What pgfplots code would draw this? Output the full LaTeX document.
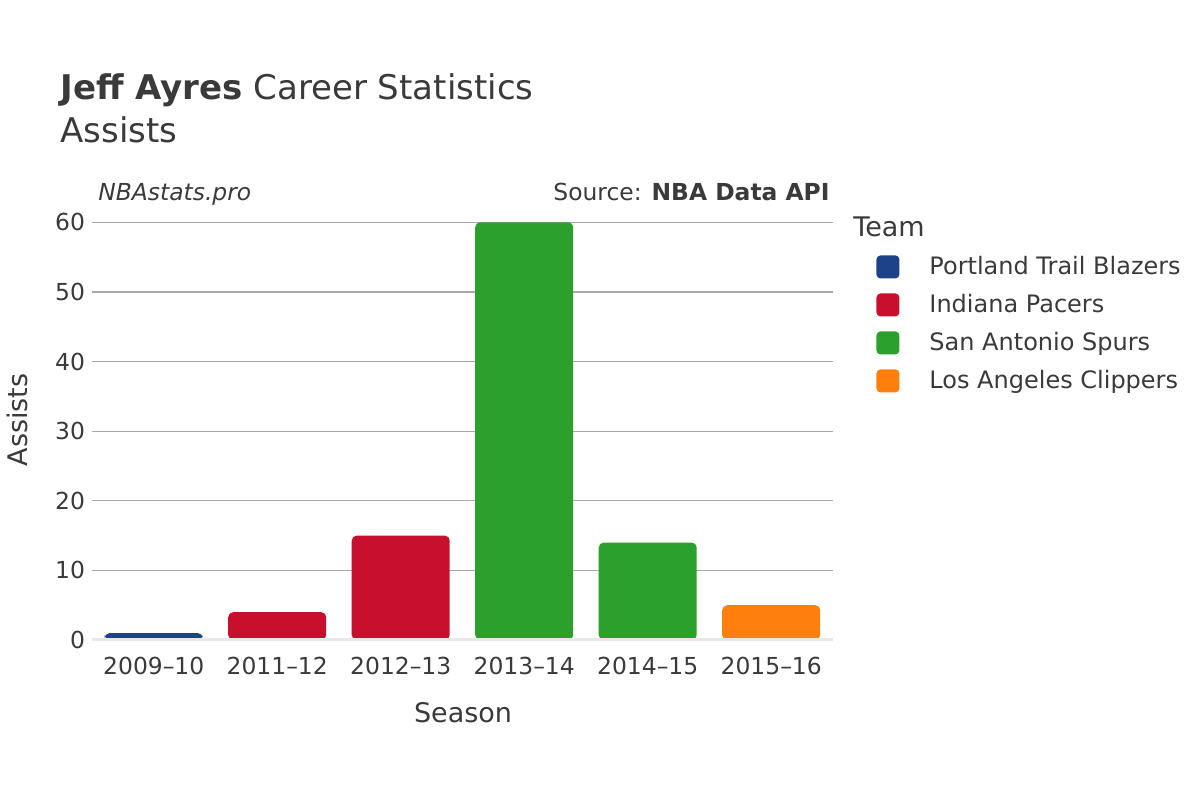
\documentclass[border=0pt]{standalone}
\usepackage{pgfplots}
\pgfplotsset{compat=1.18}
\usepackage{fontspec}
\setmainfont{DejaVu Sans}
\definecolor{txt}{HTML}{3A3A3A}
\definecolor{por}{HTML}{1D428A}
\definecolor{ind}{HTML}{C8102E}
\definecolor{sas}{HTML}{2CA02C}
\definecolor{lac}{HTML}{FF7F0E}
\definecolor{grd}{HTML}{A8A8A8}
\definecolor{zl}{HTML}{E8E8E8}
\begin{document}
\begin{tikzpicture}[x=1pt,y=1pt]
\fill[white] (0,0) rectangle (600,400);
\begin{axis}[
  at={(46pt,80pt)}, anchor=south west,
  scale only axis, width=370.5pt, height=220pt,
  xmin=-0.5, xmax=5.5, ymin=0, ymax=63.2,
  axis line style={draw=none},
  tick style={draw=none},
  xtick={0,1,2,3,4,5},
  xticklabels={2009–10,2011–12,2012–13,2013–14,2014–15,2015–16},
  ytick={10,20,30,40,50,60},
  extra y ticks={0},
  extra y tick style={grid=none},
  ymajorgrids, grid style={grd, line width=0.6pt},
  ticklabel style={font=\fontsize{11.7}{14}\selectfont, text=txt},
  /pgf/number format/assume math mode=true,
  xticklabel style={yshift=-1pt},
  ybar, bar width=49pt, /pgf/bar shift=0pt,
  legend cell align=left,
  legend style={at={(1.05,0.884)}, anchor=north west, draw=none, fill=none,
    font=\fontsize{12}{14}\selectfont, text=txt,
    row sep=6.5pt,
    nodes={inner sep=0pt, text height=9pt, text depth=3pt},
    /tikz/every odd column/.style={column sep=15pt}},
  legend image code/.code={\fill[#1, draw=none, rounded corners=2pt] (0pt,-5pt) rectangle (11.5pt,6.5pt);},
]
\addplot[fill=por, draw=none, rounded corners=2.5pt] coordinates {(0,1)};
\addlegendentry{Portland Trail Blazers}
\addplot[fill=ind, draw=none, rounded corners=2.5pt] coordinates {(1,4) (2,15)};
\addlegendentry{Indiana Pacers}
\addplot[fill=sas, draw=none, rounded corners=2.5pt] coordinates {(3,60) (4,14)};
\addlegendentry{San Antonio Spurs}
\addplot[fill=lac, draw=none, rounded corners=2.5pt] coordinates {(5,5)};
\addlegendentry{Los Angeles Clippers}
\draw[zl, line width=2pt] (axis cs:-0.5,0) -- (axis cs:5.5,0);
\end{axis}
\node[anchor=base west, text=txt, font=\fontsize{17}{20}\selectfont, inner sep=0] at (30,350) {\textbf{Jeff Ayres} Career Statistics};
\node[anchor=base west, text=txt, font=\fontsize{17}{20}\selectfont, inner sep=0] at (30,328.5) {Assists};
\node[anchor=base west, text=txt, font=\fontsize{11.7}{14}\selectfont\itshape, inner sep=0] at (49,300) {NBAstats.pro};
\node[anchor=base east, text=txt, font=\fontsize{11.7}{14}\selectfont, inner sep=0] at (415,300) {Source: \textbf{NBA Data API}};
\node[anchor=base west, text=txt, font=\fontsize{13.5}{16}\selectfont, inner sep=0] at (426.5,282) {Team};
\node[text=txt, font=\fontsize{13.5}{16}\selectfont, inner sep=0, rotate=90] at (8.5,190) {Assists};
\node[anchor=base, text=txt, font=\fontsize{13.5}{16}\selectfont, inner sep=0] at (231.5,39) {Season};
\end{tikzpicture}
\end{document}
